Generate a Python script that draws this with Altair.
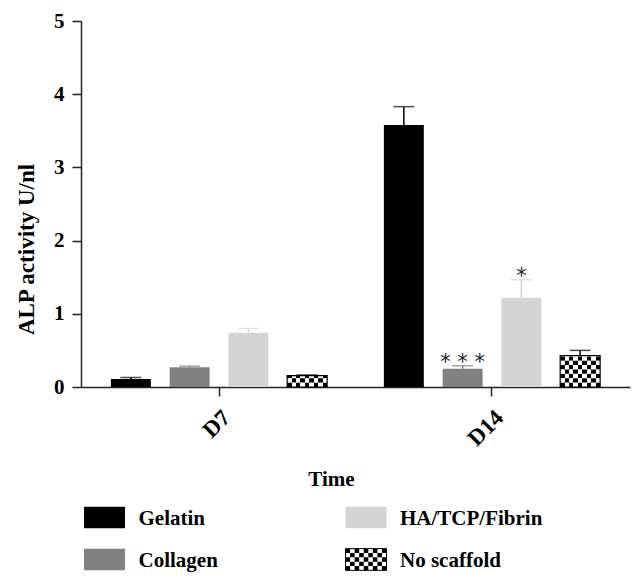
import altair as alt
import pandas as pd

groups = ["Gelatin", "Collagen", "HA/TCP/Fibrin", "No scaffold"]
times = ["D7", "D14"]
d7_mean = [0.11, 0.27, 0.74, 0.155]
d7_err = [0.02, 0.015, 0.06, 0.01]
d14_mean = [3.58, 0.25, 1.22, 0.43]
d14_err = [0.25, 0.04, 0.245, 0.07]
d7_sig = ["", "", "", ""]
d14_sig = ["", "* * *", "*", ""]
y_ticks = [0, 1, 2, 3, 4, 5]

fill_colors = ["#000000", "#808080", "#d4d4d4", "#ffffff"]
err_colors = ["#000000", "#808080", "#d4d4d4", "#000000"]
legend_col = [0, 0, 1, 1]
legend_row = [0, 1, 0, 1]

SERIF = "Liberation Serif"

rows = []
for t, means, errs, sigs in [("D7", d7_mean, d7_err, d7_sig), ("D14", d14_mean, d14_err, d14_sig)]:
    for g, m, e, s in zip(groups, means, errs, sigs):
        rows.append({"Time": t, "Group": g, "Mean": m, "top": m + e, "sig": s})
df = pd.DataFrame(rows)

# checker pattern rows for the "No scaffold" bars
cell_h = 0.06
chk = []
for r in rows:
    if r["Group"] != "No scaffold":
        continue
    k = 0
    while k * cell_h < r["Mean"]:
        chk.append({"Time": r["Time"], "Group": r["Group"], "lo": k * cell_h,
                    "hi": min((k + 1) * cell_h, r["Mean"]), "parity": k % 2})
        k += 1
chk = pd.DataFrame(chk)

ncols = 9
def stripes(start_black):
    stops = []
    for i in range(ncols):
        black = (i % 2 == 0) == start_black
        c = "#000000" if black else "#ffffff"
        stops.append(alt.GradientStop(offset=i / ncols, color=c))
        stops.append(alt.GradientStop(offset=(i + 1) / ncols, color=c))
    return alt.LinearGradient(gradient="linear", stops=stops, x1=0, x2=1, y1=0, y2=0)

axis_common = dict(labelFont=SERIF, labelFontWeight="bold", labelColor="#000",
                   titleFont=SERIF, titleFontWeight="bold", titleColor="#000",
                   domainColor="#222", tickColor="#222", domainWidth=1.5, tickWidth=1.5)

X = alt.X("Time:N", sort=times, title="Time",
          scale=alt.Scale(paddingInner=0.139, paddingOuter=0.075),
          axis=alt.Axis(labelAngle=-45, tickSize=9, labelFontSize=23, labelPadding=10,
                        titleFontSize=21, titleX=250, titleY=98, titleBaseline="alphabetic",
                        **axis_common))
XO = alt.XOffset("Group:N", sort=groups, scale=alt.Scale(paddingInner=0.32, paddingOuter=0.16))
YT = "ALP activity U/nl"
YS = alt.Scale(domain=[0, 5], nice=False)
Y = alt.Y("Mean:Q", title=YT, scale=YS,
          axis=alt.Axis(values=y_ticks, grid=False, tickSize=9, labelFontSize=21, labelPadding=8,
                        format="d", titleFontSize=23, titleX=-48, titleY=228,
                        titleBaseline="alphabetic", titleAlign="center", **axis_common))

fill_enc = alt.Fill("Group:N", scale=alt.Scale(domain=groups, range=fill_colors), legend=None)
col_enc = alt.Color("Group:N", scale=alt.Scale(domain=groups, range=err_colors), legend=None)

base = alt.Chart(df)
bars = base.mark_bar().encode(x=X, xOffset=XO, y=Y, fill=fill_enc)
chk_even = alt.Chart(chk).transform_filter("datum.parity == 0").mark_bar(color=stripes(True)).encode(
    x=X, xOffset=XO, y=alt.Y("lo:Q", title=YT, scale=YS), y2="hi:Q")
chk_odd = alt.Chart(chk).transform_filter("datum.parity == 1").mark_bar(color=stripes(False)).encode(
    x=X, xOffset=XO, y=alt.Y("lo:Q", title=YT, scale=YS), y2="hi:Q")
outline = base.transform_filter("datum.Group == 'No scaffold'").mark_bar(
    fillOpacity=0, stroke="#000", strokeWidth=1.2).encode(x=X, xOffset=XO, y=alt.Y("Mean:Q", title=YT, scale=YS))
err = base.mark_rule(strokeWidth=1.5).encode(
    x=X, xOffset=XO, y=alt.Y("Mean:Q", title=YT, scale=YS), y2="top:Q", color=col_enc)
caps = base.mark_tick(thickness=1.5, size=21).encode(
    x=X, xOffset=XO, y=alt.Y("top:Q", title=YT, scale=YS), color=col_enc)
sig = base.mark_text(font="DejaVu Sans", fontSize=21, baseline="alphabetic", dy=3, color="#222").encode(
    x=X, xOffset=XO, y=alt.Y("top:Q", title=YT, scale=YS), text="sig:N")

main = alt.layer(bars, chk_even, chk_odd, outline, err, caps, sig)

# manual legend
leg = pd.DataFrame({"Group": groups, "col": legend_col, "row": legend_row})
LX = alt.X("col:Q", scale=alt.Scale(domain=[0, 1], range=[23.5, 285]), axis=None)
LY = alt.Y("row:Q", scale=alt.Scale(domain=[0, 1], range=[496.5, 538.5]), axis=None)
hh = 0.53
rect_path = f"M-1,-{hh}L1,-{hh}L1,{hh}L-1,{hh}Z"
cw, ch = 2 / 9, 2 * hh / 5
parts = []
for rr in range(5):
    for cc in range(9):
        if (rr + cc) % 2 == 0:
            x0, y0 = -1 + cc * cw, -hh + rr * ch
            x1, y1 = x0 + cw, y0 + ch
            parts.append(f"M{x0:.4f},{y0:.4f}L{x1:.4f},{y0:.4f}L{x1:.4f},{y1:.4f}L{x0:.4f},{y1:.4f}Z")
checker_path = "".join(parts)
lbase = alt.Chart(leg)
sw = lbase.mark_point(shape=rect_path, size=41 ** 2, filled=True, opacity=1).encode(x=LX, y=LY, fill=fill_enc)
sw_chk = lbase.transform_filter("datum.Group == 'No scaffold'").mark_point(
    shape=checker_path, size=41 ** 2, filled=True, opacity=1, color="#000").encode(x=LX, y=LY)
sw_out = lbase.transform_filter("datum.Group == 'No scaffold'").mark_point(
    shape=rect_path, size=41 ** 2, filled=False, opacity=1, color="#000", strokeWidth=1).encode(x=LX, y=LY)
ltxt = lbase.mark_text(align="left", baseline="alphabetic", dx=34, dy=7.5, font=SERIF,
                       fontWeight="bold", fontSize=21, color="#000").encode(x=LX, y=LY, text="Group:N")
legend = alt.layer(sw, sw_chk, sw_out, ltxt)

chart = alt.layer(main, legend).resolve_scale(x="independent", y="independent").properties(
    width=549, height=366,
    autosize=alt.AutoSizeParams(type="none"),
    padding={"left": 73, "top": 13, "right": 6, "bottom": 191},
).configure_view(stroke=None)

chart.save("out.html", embed_options={"renderer": "svg", "actions": False})
